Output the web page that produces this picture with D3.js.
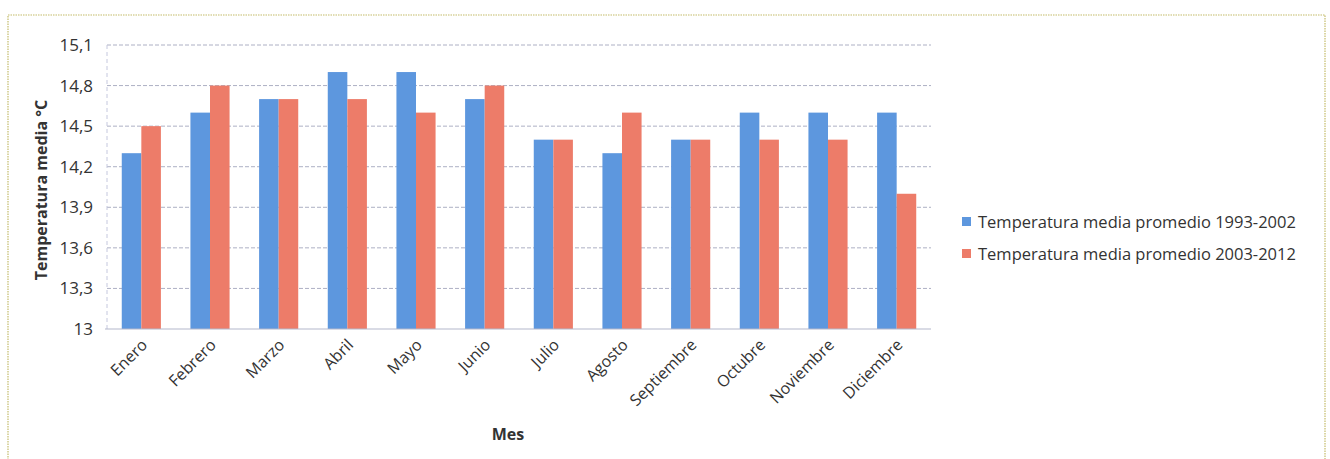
<!DOCTYPE html>
<html><head><meta charset="utf-8">
<script src="https://cdn.jsdelivr.net/npm/d3@7"></script>
<style>body{margin:0;background:#fff;}svg{display:block;font-family:"Open Sans",sans-serif;}</style>
</head><body>
<svg id="c" width="1330" height="459"></svg>
<script>
const months = ["Enero","Febrero","Marzo","Abril","Mayo","Junio","Julio","Agosto","Septiembre","Octubre","Noviembre","Diciembre"];
const series1 = [14.3,14.6,14.7,14.9,14.9,14.7,14.4,14.3,14.4,14.6,14.6,14.6];
const series2 = [14.5,14.8,14.7,14.7,14.6,14.8,14.4,14.6,14.4,14.4,14.4,14.0];
const seriesNames = ["Temperatura media promedio 1993-2002","Temperatura media promedio 2003-2012"];
const yTicks = [13,13.3,13.6,13.9,14.2,14.5,14.8,15.1];
const colors = ["#5d97de","#ed7c69"];

const svg = d3.select("#c");
// frame
svg.append("path").attr("d","M8,460 L8,15 L1325,15 L1325,460")
  .attr("fill","none").attr("stroke","#c4bb6a").attr("stroke-width",1.2).attr("stroke-dasharray","1.5,1");

const m = {l:107, r:931, t:45, b:329};
const x = d3.scaleBand().domain(months).range([m.l,m.r]).paddingInner(0.43).paddingOuter(0.215);
const xs = d3.scaleBand().domain([0,1]).range([0,x.bandwidth()]);
const y = d3.scaleLinear().domain([13,15.1]).range([m.b,m.t]);

// gridlines
svg.append("g").selectAll("line").data(yTicks.slice(1)).join("line")
  .attr("x1",m.l).attr("x2",m.r).attr("y1",d=>y(d)).attr("y2",d=>y(d))
  .attr("stroke","#adb0c4").attr("stroke-width",1).attr("stroke-dasharray","4,2");
// left dashed axis
svg.append("line").attr("x1",m.l).attr("x2",m.l).attr("y1",m.t).attr("y2",m.b)
  .attr("stroke","#c5c8de").attr("stroke-dasharray","4,3");

const data = months.map((mo,i)=>({mo,v:[series1[i],series2[i]]}));
const g = svg.append("g").selectAll("g").data(data).join("g")
  .attr("transform",d=>`translate(${x(d.mo)},0)`);
g.selectAll("rect").data(d=>d.v.map((v,k)=>({v,k}))).join("rect")
  .attr("x",d=>xs(d.k)).attr("width",xs.bandwidth())
  .attr("y",d=>y(d.v)).attr("height",d=>y(13)-y(d.v))
  .attr("fill",d=>colors[d.k]);

// baseline
svg.append("line").attr("x1",m.l-2).attr("x2",m.r).attr("y1",m.b).attr("y2",m.b)
  .attr("stroke","#b4b7cc").attr("stroke-width",1.2);

// y axis labels
const yAxis = d3.axisLeft(y).tickValues(yTicks).tickSize(0).tickPadding(14)
  .tickFormat(d=> d===13 ? "13" : d3.format(".1f")(d).replace(".",","));
const ya = svg.append("g").attr("transform",`translate(${m.l},0)`).call(yAxis);
ya.select(".domain").remove();
ya.selectAll("text").attr("font-size",17).attr("fill","#333").attr("font-family","Open Sans");

// x axis labels
const xAxis = d3.axisBottom(x).tickSize(0).tickPadding(0);
const xa = svg.append("g").attr("transform",`translate(0,${m.b})`).call(xAxis);
xa.select(".domain").remove();
xa.selectAll("text").attr("font-size",16).attr("fill","#333").attr("font-family","Open Sans")
  .attr("text-anchor","end").attr("dy",0)
  .attr("transform","translate(7,17) rotate(-45)");

// axis titles
svg.append("text").attr("transform","translate(47,190) rotate(-90)").attr("text-anchor","middle")
  .attr("font-size",16).attr("font-weight","bold").attr("fill","#333").text("Temperatura media °C");
svg.append("text").attr("x",508).attr("y",440).attr("text-anchor","middle")
  .attr("font-size",16).attr("font-weight","bold").attr("fill","#333").text("Mes");

// legend
const lg = svg.append("g").selectAll("g").data(seriesNames).join("g")
  .attr("transform",(d,i)=>`translate(962,${222+i*32})`);
lg.append("rect").attr("x",0).attr("y",-5).attr("width",9).attr("height",9).attr("fill",(d,i)=>colors[i]);
lg.append("text").attr("x",16).attr("y",5.5).attr("font-size",16.5).attr("fill","#333").text(d=>d);
</script>
</body></html>
